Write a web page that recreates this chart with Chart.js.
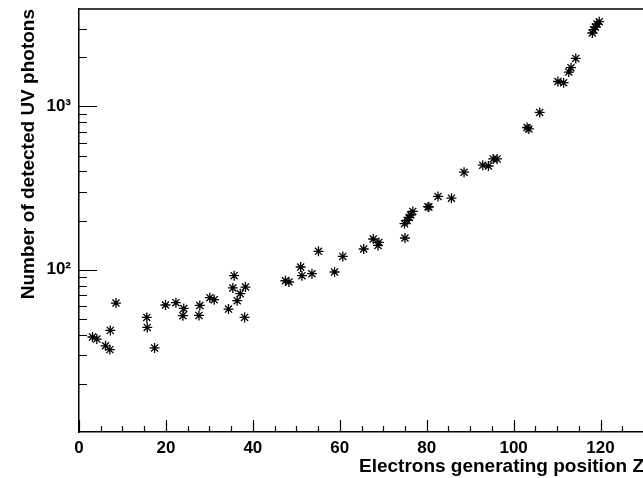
<!DOCTYPE html>
<html>
<head>
<meta charset="utf-8">
<script src="https://cdn.jsdelivr.net/npm/chart.js@4/dist/chart.umd.min.js"></script>
<style>
  html, body { margin: 0; padding: 0; background: #fff; overflow: hidden; }
  #wrap { width: 660px; height: 478px; position: relative; }
</style>
</head>
<body>
<div id="wrap"><canvas id="c" width="660" height="478"></canvas></div>
<script>
// ---- data ----
const positionZ = [3.1, 4.1, 6.1, 7.1, 7.2, 8.5, 15.6, 15.7, 17.4, 19.9, 22.3, 24.1, 23.9, 27.8, 27.6, 30.1, 31.1, 34.4, 35.7, 35.4, 37.1, 36.4, 38.3, 38.1, 47.5, 48.3, 51.0, 51.3, 53.6, 55.1, 58.8, 60.7, 65.5, 67.7, 69.0, 68.8, 75.0, 74.9, 75.5, 76.0, 76.3, 76.8, 80.3, 80.5, 82.6, 85.7, 88.6, 92.9, 94.2, 95.3, 96.2, 103.1, 103.5, 106.0, 110.2, 111.5, 112.7, 113.2, 114.3, 118.1, 118.4, 118.8, 119.2, 119.7];
const uvPhotons = [38.7, 37.6, 34.2, 32.4, 42.5, 62.5, 51.0, 44.3, 33.2, 60.8, 62.8, 57.9, 52.3, 60.4, 52.5, 67.4, 65.5, 57.4, 91.9, 77.3, 71.3, 64.6, 78.3, 51.0, 85.6, 84.1, 103.9, 91.9, 94.5, 129.5, 96.8, 120.6, 133.9, 154.2, 147, 140.8, 156.4, 191.3, 200.4, 209.1, 216.3, 227.5, 243.1, 242.1, 281.1, 274.1, 395.4, 436.4, 431.5, 477, 477, 742.7, 728, 919, 1421, 1397, 1624, 1726, 1968, 2815, 2949, 3064, 3196, 3302];
const xTickValues = [0, 20, 40, 60, 80, 100, 120];
const yLabelValues = [100, 1000];
const yLabelTexts = ['10\u00B2', '10\u00B3'];
const xTitle = 'Electrons generating position Z';
const yTitle = 'Number of detected UV photons';

const points = positionZ.map((x, i) => ({ x: x, y: uvPhotons[i] }));

const FONT = "'Liberation Sans', Arial, Helvetica, sans-serif";

// ROOT-style inside tick marks and top frame line
const rootTicks = {
  id: 'rootTicks',
  afterDraw(chart) {
    const ctx = chart.ctx;
    const xs = chart.scales.x, ys = chart.scales.y;
    const a = chart.chartArea;
    ctx.save();
    ctx.strokeStyle = '#000';
    ctx.lineWidth = 1.2;
    ctx.beginPath();
    for (let v = 0; v <= 130; v += 5) {
      const px = Math.round(xs.getPixelForValue(v)) + 0.5;
      const len = (v % 20 === 0) ? 12 : 6;
      ctx.moveTo(px, a.bottom);
      ctx.lineTo(px, a.bottom - len);
    }
    for (let d = 10; d <= 1000; d *= 10) {
      for (let m = 1; m <= 9; m++) {
        const v = d * m;
        if (v < ys.min || v > ys.max) continue;
        const py = Math.round(ys.getPixelForValue(v)) + 0.5;
        const len = (m === 1) ? 18 : 8;
        ctx.moveTo(a.left, py);
        ctx.lineTo(a.left + len, py);
      }
    }
    ctx.stroke();
    ctx.lineWidth = 1.5;
    ctx.beginPath();
    ctx.moveTo(a.left, a.top);
    ctx.lineTo(a.right + 20, a.top);
    ctx.stroke();
    ctx.restore();
  }
};

new Chart(document.getElementById('c'), {
  type: 'scatter',
  data: {
    datasets: [{
      data: points,
      pointStyle: 'star',
      pointRadius: 5,
      pointBorderWidth: 1.3,
      borderColor: '#000',
      backgroundColor: '#000',
      showLine: false
    }]
  },
  options: {
    responsive: false,
    animation: false,
    events: [],
    layout: { padding: { top: 9, right: 16, left: 0, bottom: 0 } },
    plugins: { legend: { display: false }, tooltip: { enabled: false } },
    scales: {
      x: {
        type: 'linear',
        min: 0,
        max: 130,
        afterBuildTicks(s) { s.ticks = xTickValues.map(v => ({ value: v })); },
        afterFit(s) { s.height = 46; s.paddingLeft = 0; s.paddingRight = 0; },
        grid: { display: false, drawTicks: false },
        border: { display: true, color: '#000', width: 1.5 },
        ticks: {
          autoSkip: false,
          maxRotation: 0,
          padding: 6,
          color: '#000',
          font: { family: FONT, size: 17, weight: 'bold' },
          callback: (v) => String(v)
        },
        title: {
          display: true,
          text: xTitle,
          align: 'end',
          color: '#000',
          font: { family: FONT, size: 19, weight: 'bold' },
          padding: { top: 0, bottom: 0 }
        }
      },
      y: {
        type: 'logarithmic',
        min: 10.14,
        max: 3950,
        afterBuildTicks(s) { s.ticks = yLabelValues.map(v => ({ value: v })); },
        afterFit(s) { s.width = 79; s.paddingTop = 0; s.paddingBottom = 0; },
        grid: { display: false, drawTicks: false },
        border: { display: true, color: '#000', width: 1.5 },
        ticks: {
          autoSkip: false,
          padding: 8,
          color: '#000',
          font: { family: FONT, size: 17, weight: 'bold' },
          callback: (v) => {
            const i = yLabelValues.indexOf(v);
            return i >= 0 ? yLabelTexts[i] : '';
          }
        },
        title: {
          display: true,
          text: yTitle,
          align: 'end',
          color: '#000',
          font: { family: FONT, size: 19, weight: 'bold' },
          padding: { top: 17, bottom: 0 }
        }
      }
    }
  },
  plugins: [rootTicks]
});
</script>
</body>
</html>
